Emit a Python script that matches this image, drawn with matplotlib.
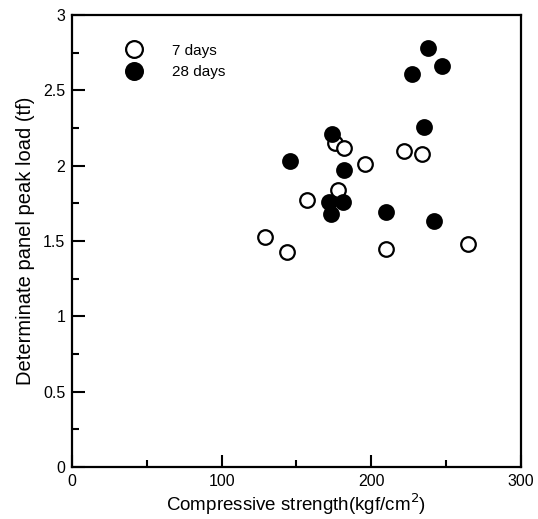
import matplotlib
matplotlib.use("Agg")
import matplotlib.pyplot as plt
from matplotlib.ticker import MultipleLocator

plt.rcParams["font.family"] = ["Liberation Sans", "DejaVu Sans"]

# compressive strength (kgf/cm2) vs peak load (tf)
strength_7d = [129, 144, 157, 178, 176, 182, 196, 210, 222, 234, 265]
load_7d = [1.53, 1.43, 1.77, 1.84, 2.15, 2.12, 2.01, 1.45, 2.10, 2.08, 1.48]

strength_28d = [146, 174, 182, 172, 181, 173, 210, 227, 238, 247, 235, 242]
load_28d = [2.03, 2.21, 1.97, 1.76, 1.76, 1.68, 1.69, 2.61, 2.78, 2.66, 2.26, 1.63]

fig = plt.figure(figsize=(5.38, 5.19), dpi=100)
ax = fig.add_axes([0.134, 0.100, 0.834, 0.871])

ax.plot(strength_7d, load_7d, "o", ms=10.5, mfc="white", mec="black", mew=1.6,
        label="7 days", zorder=3)
ax.plot(strength_28d, load_28d, "o", ms=10.5, mfc="black", mec="black", mew=1.6,
        label="28 days", zorder=3)

ax.set_xlim(0, 300)
ax.set_ylim(0, 3)
ax.xaxis.set_major_locator(MultipleLocator(100))
ax.xaxis.set_minor_locator(MultipleLocator(50))
ax.yaxis.set_minor_locator(MultipleLocator(0.25))
ax.set_yticks([0, 0.5, 1, 1.5, 2, 2.5, 3])
ax.set_yticklabels(["0", "0.5", "1", "1.5", "2", "2.5", "3"])

ax.tick_params(which="both", direction="in", width=1.5, labelsize=11.5,
               top=False, right=False)
ax.tick_params(which="major", length=9, pad=5)
ax.tick_params(which="minor", length=5)
for s in ax.spines.values():
    s.set_linewidth(1.6)

ax.set_xlabel("Compressive strength(kgf/cm$^2$)", fontsize=13.5, labelpad=2)
ax.set_ylabel("Determinate panel peak load (tf)", fontsize=14.5, labelpad=6)

ax.legend(loc="upper left", bbox_to_anchor=(0.08, 0.96), frameon=False,
          fontsize=11, markerscale=1.15, handletextpad=1.5, labelspacing=0.5,
          borderpad=0.2)

fig.savefig("out.png", dpi=100)
